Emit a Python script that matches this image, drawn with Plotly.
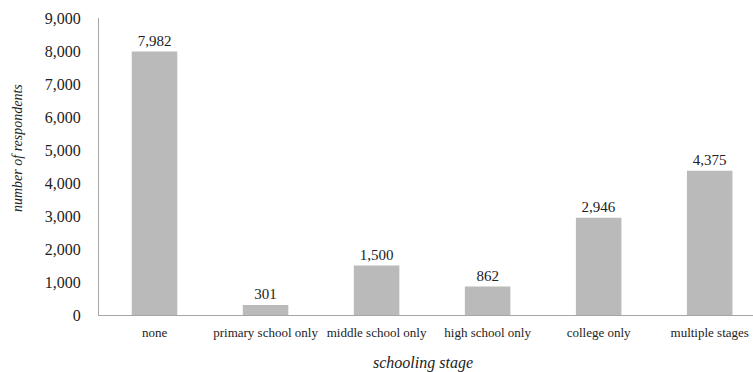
import plotly.graph_objects as go

categories = ["none", "primary school only", "middle school only", "high school only", "college only", "multiple stages"]
values = [7982, 301, 1500, 862, 2946, 4375]
tick_vals = [0, 1000, 2000, 3000, 4000, 5000, 6000, 7000, 8000, 9000]
tick_text = ["0", "1,000", "2,000", "3,000", "4,000", "5,000", "6,000", "7,000", "8,000", "9,000"]
x_title = "schooling stage"
y_title = "number of respondents"

font_family = "Liberation Serif"
txt = "#222222"

fig = go.Figure(go.Bar(
    x=categories,
    y=values,
    marker=dict(color="#BABABA", line=dict(width=0)),
    text=[f"{v:,}" for v in values],
    textposition="outside",
    textfont=dict(family=font_family, size=15, color=txt),
    cliponaxis=False,
))

fig.update_layout(
    width=753, height=372,
    margin=dict(l=99, r=0, t=18, b=57),
    plot_bgcolor="white", paper_bgcolor="white",
    bargap=0.59,
    showlegend=False,
    font=dict(family=font_family, color=txt),
    xaxis=dict(
        range=[-0.5, 5.39],
        showline=True, linecolor="#A6A6A6", linewidth=1,
        ticks="", showgrid=False,
        tickfont=dict(family=font_family, size=13, color=txt),
        ticklabelstandoff=5,
    ),
    yaxis=dict(
        range=[0, 9000],
        tickvals=tick_vals, ticktext=tick_text,
        showline=True, linecolor="#A6A6A6", linewidth=1,
        ticks="", showgrid=False, zeroline=False,
        tickfont=dict(family=font_family, size=16, color=txt),
        ticklabelstandoff=14,
    ),
    annotations=[
        dict(text=f"<i>{x_title}</i>", xref="paper", yref="paper",
             x=(423 - 99) / 654, y=-(363 - 315) / 297,
             xanchor="center", yanchor="middle", showarrow=False,
             font=dict(family=font_family, size=16, color=txt)),
        dict(text=f"<i>{y_title}</i>", xref="paper", yref="paper",
             x=-(99 - 17) / 654, y=(315 - 148) / 297, textangle=-90,
             xanchor="center", yanchor="middle", showarrow=False,
             font=dict(family=font_family, size=14, color=txt)),
    ],
)

fig.write_html("out.html")
